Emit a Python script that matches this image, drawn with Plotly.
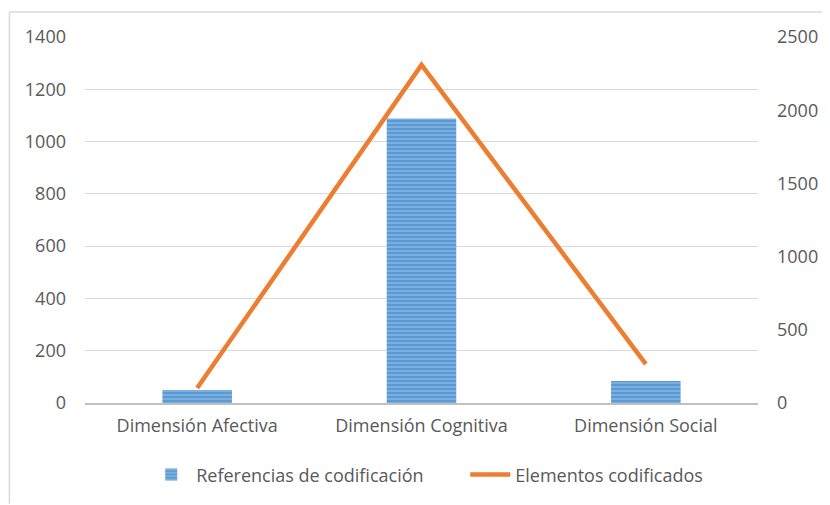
import plotly.graph_objects as go

categories = ["Dimensión Afectiva", "Dimensión Cognitiva", "Dimensión Social"]
referencias = [50, 1088, 84]
elementos = [102, 2309, 266]
left_ticks = [0, 200, 400, 600, 800, 1000, 1200, 1400]
right_ticks = [0, 500, 1000, 1500, 2000, 2500]

FONT = "Open Sans"
TXT = "#595959"

W, H = 822, 497
L, T, PW, PH = 77, 29, 677, 367

fig = go.Figure()
fig.add_trace(go.Bar(
    x=categories, y=referencias, name="Referencias de codificación",
    marker=dict(color="#5B9BD5", line=dict(width=0),
                pattern=dict(shape="-", bgcolor="#5B9BD5", fgcolor="#C5DCF1",
                             size=4, solidity=0.3, fillmode="overlay")),
    width=0.31, yaxis="y",
))
fig.add_trace(go.Scatter(
    x=categories, y=elementos, name="Elementos codificados",
    mode="lines", line=dict(color="#ED7D31", width=4.5), yaxis="y2",
))

fig.update_layout(
    width=W, height=H,
    paper_bgcolor="white", plot_bgcolor="white",
    margin=dict(l=L, r=W - L - PW, t=T, b=H - T - PH),
    font=dict(family=FONT, size=18, color=TXT),
    xaxis=dict(showgrid=False, showline=True, linecolor="#BFBFBF", linewidth=1.5,
               ticks="", ticklabelstandoff=6, tickfont=dict(size=18, color=TXT)),
    yaxis=dict(range=[0, 1400], tickvals=left_ticks, showgrid=True,
               gridcolor="#D9D9D9", gridwidth=1.2, zeroline=False, showline=False,
               ticks="", ticklabelstandoff=18, tickfont=dict(size=18, color=TXT)),
    yaxis2=dict(range=[0, 2500], tickvals=right_ticks, overlaying="y", side="right",
                showgrid=False, zeroline=False, showline=False, ticks="",
                ticklabelstandoff=18, tickfont=dict(size=18, color=TXT)),
    legend=dict(orientation="h", x=0.5 + 44 / PW, xanchor="center",
                y=-(468 - (T + PH)) / PH, yanchor="middle",
                font=dict(size=18, color=TXT), itemwidth=40, traceorder="normal",
                entrywidth=264, entrywidthmode="pixels"),
    bargap=0.69,
    showlegend=True,
)
ytop = 1 + (T - 4) / PH
fig.add_shape(type="line", xref="paper", yref="paper",
              x0=(1 - L) / PW, x1=(W - L) / PW, y0=ytop, y1=ytop,
              line=dict(color="#D9D9D9", width=1.5))
fig.add_shape(type="line", xref="paper", yref="paper",
              x0=(1 - L) / PW, x1=(1 - L) / PW, y0=ytop, y1=-(H - T - PH) / PH,
              line=dict(color="#D9D9D9", width=1.5))

fig.write_html("out.html")
